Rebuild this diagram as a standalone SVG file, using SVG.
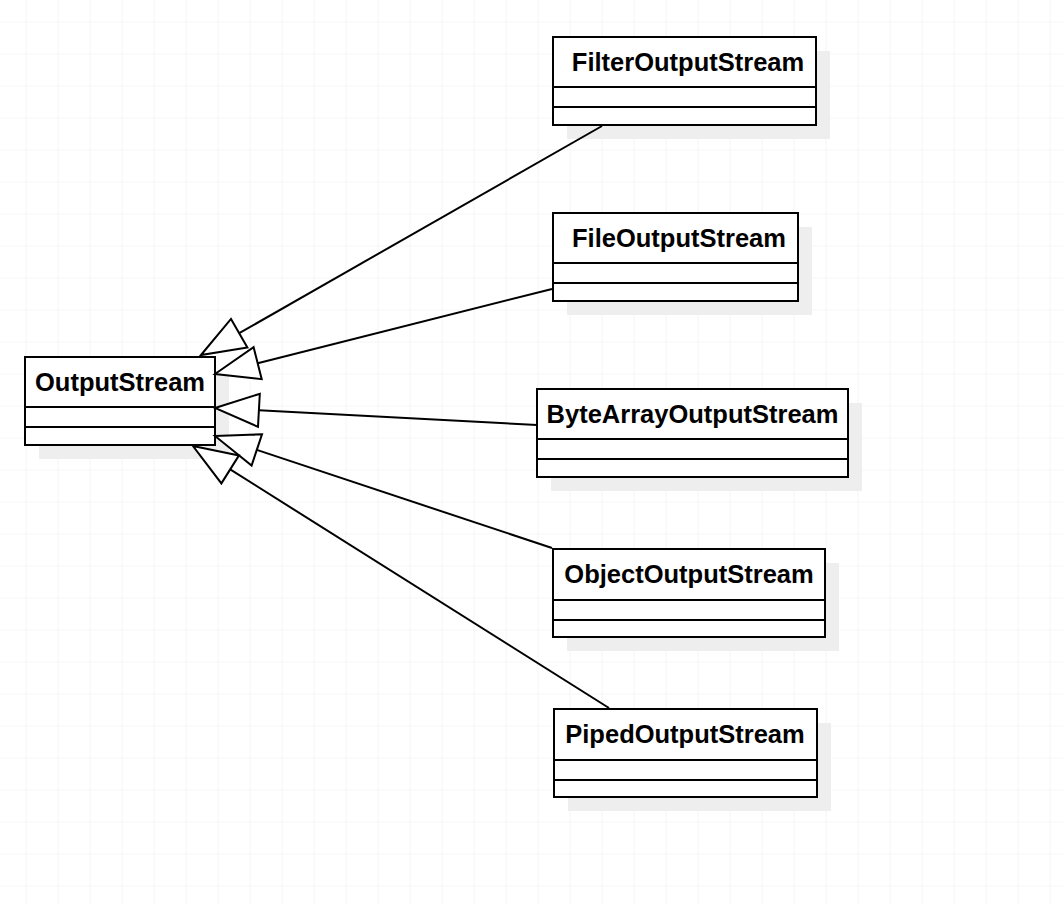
<svg xmlns="http://www.w3.org/2000/svg" width="1064" height="904" viewBox="0 0 1064 904">
<defs>
<pattern id="grid" x="25.5" y="21.5" width="32" height="32" patternUnits="userSpaceOnUse">
<path d="M0 0 H32 M0 0 V32" fill="none" stroke="#efefef" stroke-width="1.2"/>
</pattern>
</defs>
<style>
.shadow{fill:#eeeeee;stroke:none}
.box{fill:#ffffff;stroke:#000;stroke-width:2}
.div{stroke:#000;stroke-width:2}
.label{font-family:"Liberation Sans",Arial,sans-serif;font-weight:bold;font-size:25.5px;fill:#000;text-anchor:middle}
.edge{stroke:#000;stroke-width:2;fill:none}
.head{fill:#fff;stroke:#000;stroke-width:2;stroke-linejoin:miter}
</style>
<rect width="1064" height="904" fill="#ffffff"/>
<rect width="1064" height="904" fill="url(#grid)"/>

<g id="OutputStream">
<rect class="shadow" x="39" y="371" width="190" height="88"/>
<rect class="box" x="25" y="357" width="190" height="88"/>
<line class="div" x1="25" y1="407" x2="215" y2="407"/>
<line class="div" x1="25" y1="427" x2="215" y2="427"/>
<text class="label" x="120" y="391">OutputStream</text>
</g>

<g id="FilterOutputStream">
<rect class="shadow" x="567" y="51" width="263" height="88"/>
<rect class="box" x="553" y="37" width="263" height="88"/>
<line class="div" x1="553" y1="87" x2="816" y2="87"/>
<line class="div" x1="553" y1="107" x2="816" y2="107"/>
<text class="label" x="688" y="71">FilterOutputStream</text>
</g>

<g id="FileOutputStream">
<rect class="shadow" x="567" y="227" width="245" height="88"/>
<rect class="box" x="553" y="213" width="245" height="88"/>
<line class="div" x1="553" y1="263" x2="798" y2="263"/>
<line class="div" x1="553" y1="283" x2="798" y2="283"/>
<text class="label" x="679" y="247">FileOutputStream</text>
</g>

<g id="ByteArrayOutputStream">
<rect class="shadow" x="551" y="403" width="311" height="88"/>
<rect class="box" x="537" y="389" width="311" height="88"/>
<line class="div" x1="537" y1="439" x2="848" y2="439"/>
<line class="div" x1="537" y1="459" x2="848" y2="459"/>
<text class="label" x="692.5" y="423">ByteArrayOutputStream</text>
</g>

<g id="ObjectOutputStream">
<rect class="shadow" x="567" y="563" width="272" height="88"/>
<rect class="box" x="553" y="549" width="272" height="88"/>
<line class="div" x1="553" y1="600" x2="825" y2="600"/>
<line class="div" x1="553" y1="620" x2="825" y2="620"/>
<text class="label" x="689" y="583">ObjectOutputStream</text>
</g>

<g id="PipedOutputStream">
<rect class="shadow" x="568" y="723" width="263" height="88"/>
<rect class="box" x="554" y="709" width="263" height="88"/>
<line class="div" x1="554" y1="760" x2="817" y2="760"/>
<line class="div" x1="554" y1="780" x2="817" y2="780"/>
<text class="label" x="685" y="743">PipedOutputStream</text>
</g>

<g id="connectors">
<line class="edge" x1="602" y1="126" x2="239.2" y2="333.2"/>
<polygon class="head" points="201,355 231,318.9 247.4,347.5"/>
<line class="edge" x1="552" y1="289" x2="257.7" y2="363.2"/>
<polygon class="head" points="215,374 253.6,347.2 261.7,379.2"/>
<line class="edge" x1="537" y1="425" x2="258.9" y2="410.3"/>
<polygon class="head" points="215,408 259.8,393.8 258,426.8"/>
<line class="edge" x1="552" y1="548" x2="256.8" y2="449.9"/>
<polygon class="head" points="215,436 262,434.2 251.6,465.5"/>
<line class="edge" x1="609" y1="708" x2="230.2" y2="469.4"/>
<polygon class="head" points="193,446 239,455.4 221.4,483.4"/>
</g>
</svg>
